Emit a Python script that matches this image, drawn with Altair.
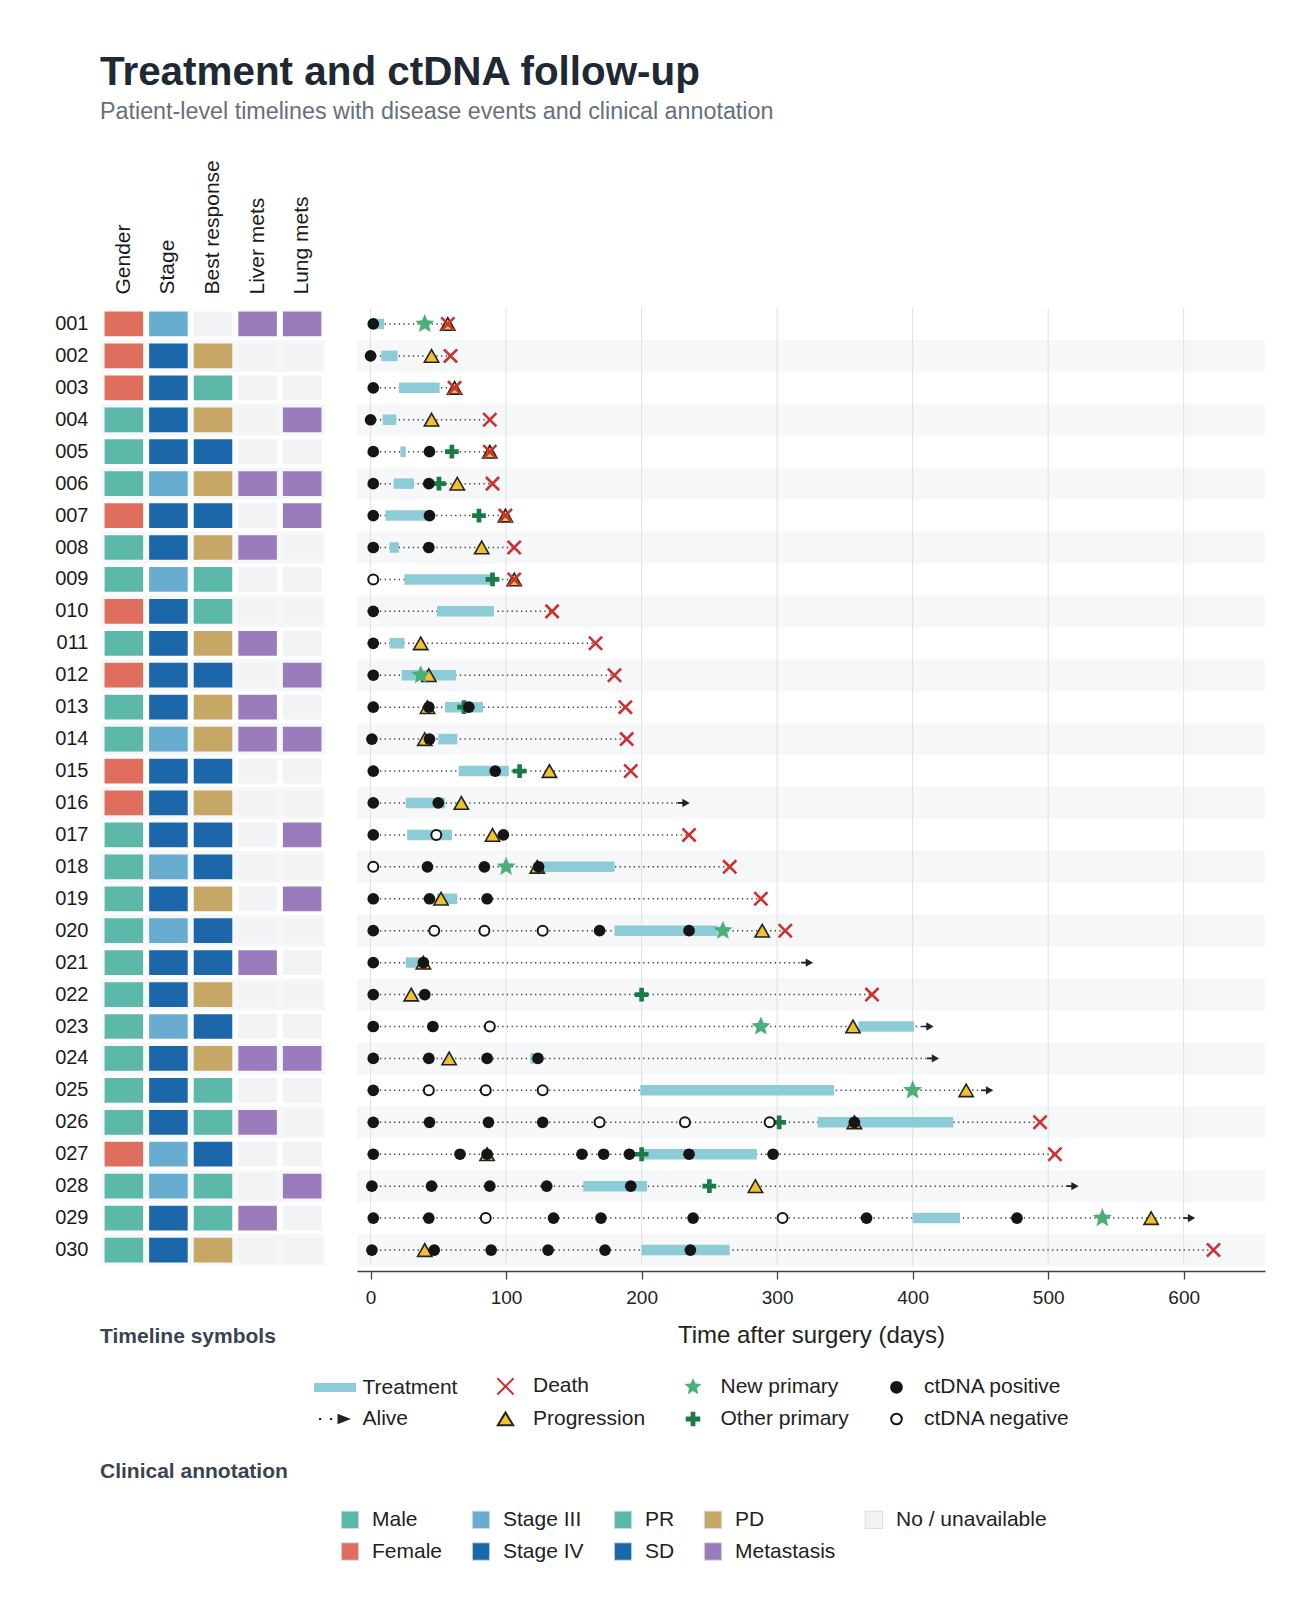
import math
import altair as alt
import pandas as pd

FONT = "Liberation Sans"

# ---------------- data ----------------
patients = ["001", "002", "003", "004", "005", "006", "007", "008", "009", "010",
            "011", "012", "013", "014", "015", "016", "017", "018", "019", "020",
            "021", "022", "023", "024", "025", "026", "027", "028", "029", "030"]

gender = ["Female", "Female", "Female", "Male", "Male", "Male", "Female", "Male", "Male", "Female",
          "Male", "Female", "Male", "Male", "Female", "Female", "Male", "Male", "Male", "Male",
          "Male", "Male", "Male", "Male", "Male", "Male", "Female", "Male", "Male", "Male"]
stage = ["Stage III", "Stage IV", "Stage IV", "Stage IV", "Stage IV", "Stage III", "Stage IV", "Stage IV", "Stage III", "Stage IV",
         "Stage IV", "Stage IV", "Stage IV", "Stage III", "Stage IV", "Stage IV", "Stage IV", "Stage III", "Stage IV", "Stage III",
         "Stage IV", "Stage IV", "Stage III", "Stage IV", "Stage IV", "Stage IV", "Stage III", "Stage III", "Stage IV", "Stage IV"]
response = ["NA", "PD", "PR", "PD", "SD", "PD", "SD", "PD", "PR", "PR",
            "PD", "SD", "PD", "PD", "SD", "PD", "SD", "SD", "PD", "SD",
            "SD", "PD", "SD", "PD", "PR", "PR", "SD", "PR", "PR", "PD"]
liver_mets = ["Yes", "No", "No", "No", "No", "Yes", "No", "Yes", "No", "No",
              "Yes", "No", "Yes", "Yes", "No", "No", "No", "No", "No", "No",
              "Yes", "No", "No", "Yes", "No", "Yes", "No", "No", "Yes", "No"]
lung_mets = ["Yes", "No", "No", "Yes", "No", "Yes", "Yes", "No", "No", "No",
             "No", "Yes", "No", "Yes", "No", "No", "Yes", "No", "Yes", "No",
             "No", "No", "No", "Yes", "No", "No", "No", "Yes", "No", "No"]

treat_start = [3, 8, 21, 9, 22, 17, 11, 14, 25, 49, 14, 23, 55, 50, 65, 26, 27, 126, 49, 180,
               26, None, 360, 118, 199, 330, 200, 157, 400, 200]
treat_end = [10, 20, 51, 19, 26, 32, 41, 21, 89, 91, 25, 63, 83, 64, 102, 55, 60, 180, 64, 256,
             37, None, 401, 123, 342, 430, 285, 204, 435, 265]

end_day = [57, 59, 62, 88, 88, 90, 99.5, 106, 106, 134, 166, 180, 188, 189, 192, 231, 235, 265, 288, 306,
           322, 370, 411, 415, 455, 494, 505, 518, 604, 622]
end_status = ["Death", "Death", "Death", "Death", "Death", "Death", "Death", "Death", "Death", "Death",
              "Death", "Death", "Death", "Death", "Death", "Alive", "Death", "Death", "Death", "Death",
              "Alive", "Death", "Alive", "Alive", "Alive", "Death", "Death", "Alive", "Alive", "Death"]

progression = [57, 45, 62, 45, 88, 64, 99.5, 82, 106, None, 37, 43, 42, 40, 132, 67, 90, 123, 52, 289,
               39, 30, 356, 58, 439.5, 357, 86, 284, 576, 40]
new_primary = [40, None, None, None, None, None, None, None, None, None, None, 37, None, None, None,
               None, None, 100, None, 260, None, None, 288, None, 400, None, None, None, 540, None]
other_primary = [None, None, None, None, 60, 50.5, 80, None, 90, None, None, None, 69, None, 110,
                 None, None, None, None, None, None, 200, None, None, None, 301.5, 200, 250, None, None]

ctdna_pos = [[2], [0], [2], [0], [2, 43.5], [2, 43], [2, 43.5], [2, 43], [], [2],
             [2], [2], [2, 43, 72.5], [1, 43.5], [2, 92], [2, 50], [2, 98], [42, 84, 124], [2, 43.5, 86], [2, 169, 235],
             [2, 39], [2, 40], [2, 46], [2, 43, 86, 123.5], [2], [2, 43.5, 87, 127, 357],
             [2, 66, 86, 156, 172, 191, 235, 297], [1, 45, 88, 130, 192], [2, 43, 135, 170, 238, 366, 477],
             [1, 47, 89, 131, 173, 236]]
ctdna_neg = [[], [], [], [], [], [], [], [], [2], [],
             [], [], [], [], [], [], [48.5], [2], [], [47, 84, 127],
             [], [], [88], [], [43, 85, 127], [169, 232, 294.5], [], [], [85, 304], []]

x_ticks = [0, 100, 200, 300, 400, 500, 600]
clin_cols = ["Gender", "Stage", "Best response", "Liver mets", "Lung mets"]
NA = "No / unavailable"
clin_order = ["Male", "Stage III", "PR", "PD", NA, "Female", "Stage IV", "SD", "Metastasis"]
clin_colors = ["#5cb8a9", "#68acd0", "#5cb8a9", "#c6a765", "#f1f3f5", "#df6e5f", "#1c67a9", "#1c67a9", "#9a7cbc"]
sym_items = ["Treatment", "Death", "New primary", "ctDNA positive",
             "Alive", "Progression", "Other primary", "ctDNA negative"]
headings = ["Timeline symbols", "Clinical annotation"]
SURGERY_DAY = 0

# ---------------- styles ----------------
TREAT = "#8dcbd6"
RED = "#cf2f2f"
YELLOW = "#f2c12e"
STAR_GREEN = "#4daf78"
DARK_GREEN = "#1b7a47"
INK = "#151515"
BAND = "#f5f7f9"

H = 958
STEP = H / len(patients)
W_HEAT = 224
W_TL = 908
GAP = 32


def star_path(R, r_ratio=0.45):
    pts = []
    for k in range(10):
        rad = R if k % 2 == 0 else R * r_ratio
        a = -math.pi / 2 + k * math.pi / 5
        pts.append(f"{rad * math.cos(a):.3f},{rad * math.sin(a):.3f}")
    return "M" + "L".join(pts) + "Z"


def circle_path(r):
    return f"M{r},0A{r},{r} 0 1,1 {-r},0A{r},{r} 0 1,1 {r},0Z"


def plus_path(a, t):
    return (f"M{-t},{-a}H{t}V{-t}H{a}V{t}H{t}V{a}H{-t}V{t}H{-a}V{-t}H{-t}Z")


TRI = "M0,-0.88L1,0.88L-1,0.88Z"
XPATH = "M-0.88,-0.88L0.88,0.88M-0.88,0.88L0.88,-0.88"
ARROW = "M-0.97,-0.14L-0.2,-0.14L-0.2,-0.68L1,0L-0.2,0.68L-0.2,0.14L-0.97,0.14Z"

# legend symbol paths (1 unit = 14 px)
sym_paths = [
    "M-1.5,-0.32H1.5V0.32H-1.5Z",
    "M-0.58,-0.58L0.58,0.58M-0.58,0.58L0.58,-0.58",
    star_path(0.64),
    circle_path(0.45),
    "M-1.14,-0.08h0.16v0.16h-0.16Z M-0.36,-0.08h0.16v0.16h-0.16Z M0.18,-0.38L1.14,0L0.18,0.38Z",
    "M0,-0.47L0.55,0.45L-0.55,0.45Z",
    plus_path(0.52, 0.17),
    circle_path(0.38),
]
sym_fill = [TREAT, "transparent", STAR_GREEN, INK, "#222222", YELLOW, DARK_GREEN, "#ffffff"]
sym_stroke = ["transparent", RED, "transparent", "transparent", "transparent", "#222222", "transparent", INK]

# ---------------- tables ----------------
heat_rows = []
for i, p in enumerate(patients):
    vals = [gender[i], stage[i], NA if response[i] == "NA" else response[i],
            "Metastasis" if liver_mets[i] == "Yes" else NA,
            "Metastasis" if lung_mets[i] == "Yes" else NA]
    for c, v in zip(clin_cols, vals):
        heat_rows.append({"patient": p, "col": c, "cat": v})
heat_df = pd.DataFrame(heat_rows)
bands_df = pd.DataFrame({"patient": patients[1::2]})

tl_df = pd.DataFrame({"patient": patients, "start": SURGERY_DAY, "end": end_day, "status": end_status})
treat_df = pd.DataFrame({"patient": patients, "ts": treat_start, "te": treat_end}).dropna()
prog_df = pd.DataFrame({"patient": patients, "day": progression}).dropna()
newp_df = pd.DataFrame({"patient": patients, "day": new_primary}).dropna()
oth_df = pd.DataFrame({"patient": patients, "day": other_primary}).dropna()
pos_df = pd.DataFrame([{"patient": p, "day": d} for p, ds in zip(patients, ctdna_pos) for d in ds])
neg_df = pd.DataFrame([{"patient": p, "day": d} for p, ds in zip(patients, ctdna_neg) for d in ds])
death_df = tl_df[tl_df["status"] == "Death"].rename(columns={"end": "day"})
alive_df = tl_df[tl_df["status"] == "Alive"].rename(columns={"end": "day"})
ticks_df = pd.DataFrame({"t": x_ticks})
sym_df = pd.DataFrame({"item": sym_items})

# ---------------- heatmap ----------------
y_heat = alt.Y("patient:N",
               scale=alt.Scale(domain=patients, paddingInner=0.225, paddingOuter=0.1125),
               axis=alt.Axis(title=None, ticks=False, tickSize=0, domain=False, labelPadding=13,
                             labelFontSize=20, labelColor="#1b1b1b", labelFont=FONT))
x_heat = alt.X("col:N",
               scale=alt.Scale(domain=clin_cols, paddingInner=0.135, paddingOuter=0.08),
               axis=alt.Axis(orient="top", title=None, ticks=False, tickSize=0, domain=False,
                             labelAngle=270, labelAlign="left", labelBaseline="middle",
                             labelPadding=14, labelFontSize=21, labelColor="#1b1b1b", labelFont=FONT))

clin_legend = alt.Legend(orient="none", legendX=238.5, legendY=1201, columns=5, direction="horizontal",
                         title=None, symbolType="square", symbolSize=306, symbolStrokeColor="#d9dde2",
                         symbolStrokeWidth=1, labelFontSize=21, labelFont=FONT, labelColor="#222222",
                         labelOffset=11.5, columnPadding=27, rowPadding=9, padding=0)

heat_bands = alt.Chart(bands_df).mark_rule(color=BAND, strokeWidth=STEP).encode(y=y_heat)
heat_cells = alt.Chart(heat_df).mark_rect().encode(
    x=x_heat, y=y_heat,
    color=alt.Color("cat:N", scale=alt.Scale(domain=clin_order, range=clin_colors), legend=clin_legend),
)
head_style = dict(align="left", baseline="middle", fontSize=21, fontWeight="bold", color="#3a4350", font=FONT)
head1 = alt.Chart(pd.DataFrame({"h": [headings[0]]})).mark_text(**head_style).encode(
    text="h:N", x=alt.value(-1), y=alt.value(1029))
head2 = alt.Chart(pd.DataFrame({"h": [headings[1]]})).mark_text(**head_style).encode(
    text="h:N", x=alt.value(-1), y=alt.value(1164))

heat = alt.layer(heat_bands, heat_cells, head1, head2).properties(width=W_HEAT, height=H)

# ---------------- timeline ----------------
xs = alt.Scale(domain=[-10, 660], nice=False, zero=False)
x_axis = alt.Axis(values=x_ticks, grid=False, domainColor="#3d4247", domainWidth=1.6,
                  tickColor="#3d4247", tickSize=8, tickWidth=1.3, labelFontSize=19,
                  labelColor="#222222", labelFont=FONT, labelPadding=9, titleFontSize=24,
                  titleFontWeight="normal", titleColor="#222222", titleFont=FONT,
                  titlePadding=16, offset=5)


def X(f):
    return alt.X(f"{f}:Q", scale=xs, axis=x_axis, title="Time after surgery (days)")


y_tl = alt.Y("patient:N", scale=alt.Scale(domain=patients, paddingInner=0, paddingOuter=0), axis=None)

tl_bands = alt.Chart(bands_df).mark_rule(color=BAND, strokeWidth=STEP).encode(y=y_tl)
tl_grid = alt.Chart(ticks_df).mark_rule(color="#dde1e5", strokeWidth=1).encode(x=X("t"))
tl_line = alt.Chart(tl_df).mark_rule(color="#3c3c3c", strokeWidth=1.5, strokeDash=[1.3, 3.4]).encode(
    x=X("start"), x2="end:Q", y=y_tl)
tl_treat = alt.Chart(treat_df).mark_bar(height=10.5, color=TREAT).encode(x=X("ts"), x2="te:Q", y=y_tl)


def pts(df, **mark):
    return alt.Chart(df).mark_point(opacity=1, **mark).encode(x=X("day"), y=y_tl)


tl_prog = pts(prog_df, shape=TRI, size=205, filled=True, fill=YELLOW, stroke="#222222", strokeWidth=1.6)
tl_new = pts(newp_df, shape=star_path(1.0), size=400, filled=True, fill=STAR_GREEN, strokeWidth=0)
tl_oth = pts(oth_df, shape=plus_path(1.0, 0.34), size=190, filled=True, fill=DARK_GREEN, strokeWidth=0)
tl_neg = pts(neg_df, shape="circle", size=100, filled=True, fill="#ffffff", stroke=INK, strokeWidth=2)
tl_pos = pts(pos_df, shape="circle", size=137, filled=True, fill=INK, strokeWidth=0)
tl_death = pts(death_df, shape=XPATH, size=225, filled=False, stroke=RED, strokeWidth=2.6)
tl_alive = pts(alive_df, shape=ARROW, size=150, filled=True, fill="#222222", strokeWidth=0)

# legend positions for orient "none" are measured from the concat origin (heatmap plot corner)
sym_legend = alt.Legend(orient="none", legendX=W_HEAT + GAP - 37, legendY=1063, columns=4,
                        direction="horizontal", title=None, symbolSize=784, symbolStrokeWidth=2,
                        labelFontSize=21, labelFont=FONT, labelColor="#222222", labelOffset=12.5,
                        columnPadding=32.5, rowPadding=5, padding=0)
tl_legend = alt.Chart(sym_df).transform_filter("false").mark_point(filled=True, opacity=1, strokeWidth=2).encode(
    shape=alt.Shape("item:N", scale=alt.Scale(domain=sym_items, range=sym_paths), legend=sym_legend),
    fill=alt.Fill("item:N", scale=alt.Scale(domain=sym_items, range=sym_fill), legend=sym_legend),
    stroke=alt.Stroke("item:N", scale=alt.Scale(domain=sym_items, range=sym_stroke), legend=sym_legend),
)

timeline = alt.layer(tl_bands, tl_grid, tl_line, tl_treat, tl_prog, tl_new, tl_oth, tl_neg, tl_pos,
                     tl_death, tl_alive, tl_legend).properties(width=W_TL, height=H)

chart = alt.hconcat(heat, timeline, spacing=GAP, bounds="flush").resolve_scale(
    color="independent", x="independent", y="independent"
).properties(
    title=alt.TitleParams(
        text="Treatment and ctDNA follow-up",
        subtitle="Patient-level timelines with disease events and clinical annotation",
        anchor="start", frame="group", fontSize=40.4, font=FONT, fontWeight="bold", color="#1f2933",
        subtitleFontSize=23.3, subtitleFont=FONT, subtitleColor="#66707c", subtitlePadding=8,
        offset=36, dx=-1,
    ),
    padding={"left": 46, "top": 45, "right": 20, "bottom": 20},
).configure(font=FONT).configure_view(stroke="transparent", strokeWidth=0)

chart.save("out.html", embed_options={"renderer": "svg", "actions": False})
